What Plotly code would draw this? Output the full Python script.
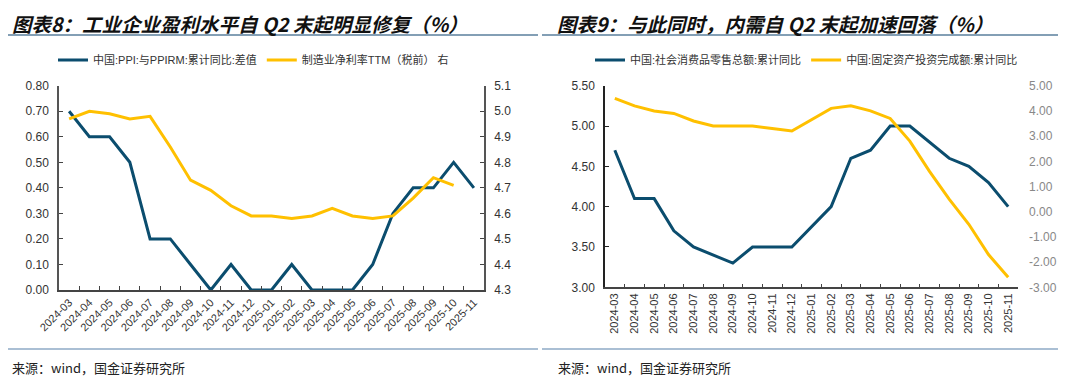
import plotly.graph_objects as go

months = ["2024-03", "2024-04", "2024-05", "2024-06", "2024-07", "2024-08", "2024-09",
          "2024-10", "2024-11", "2024-12", "2025-01", "2025-02", "2025-03", "2025-04",
          "2025-05", "2025-06", "2025-07", "2025-08", "2025-09", "2025-10", "2025-11"]

# Chart 8
ppi_gap = [0.70, 0.60, 0.60, 0.50, 0.20, 0.20, 0.10, 0.00, 0.10, 0.00, 0.00,
           0.10, 0.00, 0.00, 0.00, 0.10, 0.30, 0.40, 0.40, 0.50, 0.40]
net_margin = [4.97, 5.00, 4.99, 4.97, 4.98, 4.86, 4.73, 4.69, 4.63, 4.59, 4.59,
              4.58, 4.59, 4.62, 4.59, 4.58, 4.59, 4.66, 4.74, 4.71, None]

# Chart 9
retail = [4.7, 4.1, 4.1, 3.7, 3.5, 3.4, 3.3, 3.5, 3.5, 3.5, None,
          4.0, 4.6, 4.7, 5.0, 5.0, 4.8, 4.6, 4.5, 4.3, 4.0]
fai = [4.5, 4.2, 4.0, 3.9, 3.6, 3.4, 3.4, 3.4, 3.3, 3.2, None,
       4.1, 4.2, 4.0, 3.7, 2.8, 1.6, 0.5, -0.5, -1.7, -2.6]

left_ticks = [0.0, 0.1, 0.2, 0.3, 0.4, 0.5, 0.6, 0.7, 0.8]
right_ticks = [4.3, 4.4, 4.5, 4.6, 4.7, 4.8, 4.9, 5.0, 5.1]
left9_ticks = [3.0, 3.5, 4.0, 4.5, 5.0, 5.5]
right9_ticks = [-3, -2, -1, 0, 1, 2, 3, 4, 5]

BLUE = "#0b4d6e"
GOLD = "#ffc000"
OFF = 8  # page body margin
W, H = 1080 - OFF, 380 - OFF


def px(x):
    return (x - OFF) / W


def py(y):
    return 1 - (y - OFF) / H


TICKFONT = dict(family="Liberation Sans, Arial, sans-serif", size=12, color="#333333")
CJK = "Liberation Sans, Noto Sans CJK SC, sans-serif"

fig = go.Figure()

fig.add_trace(go.Scatter(x=months, y=ppi_gap, mode="lines", name="中国:PPI:与PPIRM:累计同比:差值",
                         line=dict(color=BLUE, width=3), xaxis="x", yaxis="y", legend="legend"))
fig.add_trace(go.Scatter(x=months, y=net_margin, mode="lines", name="制造业净利率TTM（税前） 右",
                         line=dict(color=GOLD, width=3), xaxis="x", yaxis="y2", legend="legend"))
fig.add_trace(go.Scatter(x=months, y=retail, mode="lines", name="中国:社会消费品零售总额:累计同比",
                         connectgaps=True,
                         line=dict(color=BLUE, width=3), xaxis="x2", yaxis="y3", legend="legend2"))
fig.add_trace(go.Scatter(x=months, y=fai, mode="lines", name="中国:固定资产投资完成额:累计同比",
                         connectgaps=True,
                         line=dict(color=GOLD, width=3), xaxis="x2", yaxis="y4", legend="legend2"))

x1d = [px(59), px(484)]
x2d = [px(605), px(1018)]
y1d = [py(290), py(85.7)]
y2d = [py(287.3), py(85.7)]

xcommon = dict(type="category", categoryorder="array", categoryarray=months,
               tickmode="linear", dtick=1, tickson="boundaries", automargin=False,
               ticks="inside", ticklen=4, tickcolor="#444", showgrid=False,
               showline=True, linecolor="#444", linewidth=1.5, zeroline=False,
               tickfont=dict(family="Liberation Sans, Arial, sans-serif", size=11, color="#333"),
               fixedrange=True)

fig.update_layout(
    width=W, height=H,
    margin=dict(l=0, r=0, t=0, b=0, autoexpand=False),
    paper_bgcolor="white", plot_bgcolor="white",
    showlegend=True,
    xaxis=dict(domain=x1d, anchor="y", tickangle=-45, range=[-0.5, 20.5], **xcommon),
    yaxis=dict(domain=y1d, anchor="x", range=[0, 0.8], tickmode="array", tickvals=left_ticks,
               ticktext=[f"{v:.2f}" for v in left_ticks], ticks="inside", ticklen=4,
               tickcolor="#444", showline=True, linecolor="#555", linewidth=1.5, automargin=False,
               showgrid=False, zeroline=False, tickfont=TICKFONT, ticklabelstandoff=6),
    yaxis2=dict(overlaying="y", side="right", anchor="x", range=[4.3, 5.1], tickmode="array",
                tickvals=right_ticks, ticktext=[f"{v:.1f}" for v in right_ticks], automargin=False,
                ticks="inside", ticklen=4, tickcolor="#444", showline=True, linecolor="#555",
                linewidth=1.5, showgrid=False, zeroline=False, tickfont=TICKFONT,
                ticklabelstandoff=6),
    xaxis2=dict(domain=x2d, anchor="y3", tickangle=-90, range=[-0.5, 20.5], **xcommon),
    yaxis3=dict(domain=y2d, anchor="x2", range=[3.0, 5.5], tickmode="array", tickvals=left9_ticks,
                ticktext=[f"{v:.2f}" for v in left9_ticks], ticks="inside", ticklen=4,
                tickcolor="#222", showline=True, linecolor="#222", linewidth=1.5, automargin=False,
                showgrid=False, zeroline=False, tickfont=TICKFONT, ticklabelstandoff=6),
    yaxis4=dict(overlaying="y3", side="right", anchor="x2", range=[-3, 5], tickmode="array",
                tickvals=right9_ticks, ticktext=[f"{v:.2f}" for v in right9_ticks], automargin=False,
                ticks="", showline=False, showgrid=False, zeroline=False,
                tickfont=dict(family="Liberation Sans, Arial, sans-serif", size=12, color="#888888"),
                ticklabelstandoff=10),
    legend=dict(orientation="h", x=px(53), y=py(60), xanchor="left", yanchor="middle",
                font=dict(family=CJK, size=11, color="#333"), itemwidth=30,
                bgcolor="rgba(0,0,0,0)"),
    legend2=dict(orientation="h", x=px(590), y=py(60), xanchor="left", yanchor="middle",
                 font=dict(family=CJK, size=11, color="#333"), itemwidth=30,
                 bgcolor="rgba(0,0,0,0)"),
)

title_font = dict(family="Noto Sans CJK SC, sans-serif", size=19.5, color="#111")
fig.add_annotation(text="<b><i>图表8：工业企业盈利水平自 Q2 末起明显修复（%）</i></b>",
                   xref="paper", yref="paper", x=px(11), y=py(8), xanchor="left",
                   yanchor="top", showarrow=False, font=title_font, borderpad=0)
fig.add_annotation(text="<b><i>图表9：与此同时，内需自 Q2 末起加速回落（%）</i></b>",
                   xref="paper", yref="paper", x=px(556), y=py(8), xanchor="left",
                   yanchor="top", showarrow=False, font=title_font, borderpad=0)

src_font = dict(family="Noto Sans CJK SC, sans-serif", size=13, color="#222")
fig.add_annotation(text="来源：wind，国金证券研究所", xref="paper", yref="paper",
                   x=px(10), y=py(367), xanchor="left", yanchor="middle",
                   showarrow=False, font=src_font)
fig.add_annotation(text="来源：wind，国金证券研究所", xref="paper", yref="paper",
                   x=px(556), y=py(367), xanchor="left", yanchor="middle",
                   showarrow=False, font=src_font)

# separator lines
for x0, x1 in [(8, 538), (542, 1058)]:
    fig.add_shape(type="line", xref="paper", yref="paper", x0=px(x0), x1=px(x1),
                  y0=py(35), y1=py(35), line=dict(color="#5a7f9c", width=1.5))
    fig.add_shape(type="line", xref="paper", yref="paper", x0=px(x0), x1=px(x1),
                  y0=py(349), y1=py(349), line=dict(color="#8eaac6", width=1.5))

fig.write_html("out.html")
